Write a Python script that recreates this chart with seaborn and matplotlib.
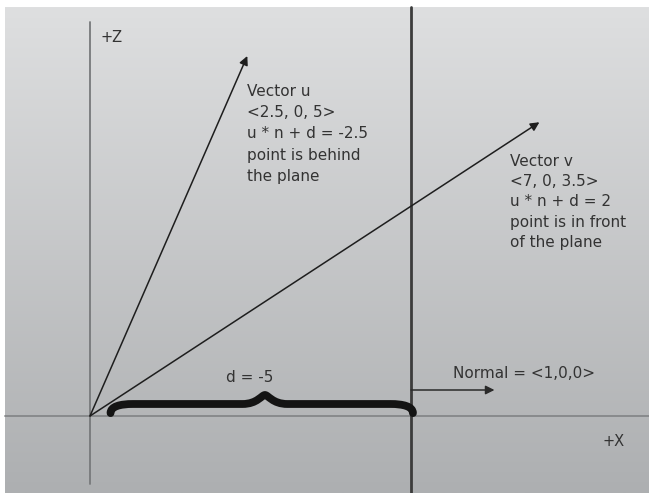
import numpy as np
import matplotlib
matplotlib.use("Agg")
import matplotlib.pyplot as plt
import seaborn as sns
from matplotlib.path import Path
from matplotlib.patches import PathPatch
from matplotlib.colors import LinearSegmentedColormap

# Vectors as drawn in the figure (x, z)
vec_names = ["u", "v"]
vec_x = [2.45, 7.0]
vec_z = [5.0, 4.08]
vec_labels = [
    ["Vector u", "<2.5, 0, 5>", "u * n + d = -2.5", "point is behind", "the plane"],
    ["Vector v", "<7, 0, 3.5>", "u * n + d = 2", "point is in front", "of the plane"],
]
plane_d = -5.0
normal = [1.0, 0.0]
normal_len = 1.3

sns.set_theme(style="white")
plt.rcParams["font.family"] = ["DejaVu Sans"]

# pixel helpers for text placement
SX, SZ, OX, OZ = 64.2, 72.0, 90, 416
def px(x):
    return (x - OX) / SX
def pz(y):
    return (OZ - y) / SZ

fig = plt.figure(figsize=(6.49, 4.93), dpi=100, facecolor="white")
ax = fig.add_axes([0, 0, 1, 1])
ax.axis("off")
xlim = (px(0), px(649))
ylim = (pz(493), pz(0))

# grey gradient panel
cmap = LinearSegmentedColormap.from_list("bg", ["#dedfe0", "#adafb1"])
grad = np.linspace(0, 1, 256).reshape(-1, 1)
ax.imshow(grad, extent=[px(5), px(649), pz(493), pz(7)], aspect="auto",
          cmap=cmap, origin="upper", zorder=0)
ax.set_xlim(*xlim)
ax.set_ylim(*ylim)

# axes lines
ax.plot([px(5), px(649)], [0, 0], color="#858789", lw=1.3, zorder=1)
ax.plot([0, 0], [pz(22), pz(484)], color="#77797b", lw=1.3, zorder=1)
# plane
plane_x = -plane_d
ax.plot([plane_x, plane_x], [pz(7), pz(493)], color="#3c3c3c", lw=2.0, zorder=2)

# vectors
for x, z in zip(vec_x, vec_z):
    ax.annotate("", xy=(x, z), xytext=(0, 0),
                arrowprops=dict(arrowstyle="-|>", color="#1e1e1e", lw=1.1,
                                mutation_scale=13, shrinkA=0, shrinkB=0),
                zorder=3)

# normal arrow
nz = pz(390)
ax.annotate("", xy=(plane_x + normal_len * normal[0], nz), xytext=(plane_x, nz),
            arrowprops=dict(arrowstyle="-|>", color="#2a2a2a", lw=1.1,
                            mutation_scale=13, shrinkA=0, shrinkB=0), zorder=3)

# brace between origin and plane
x0, x1 = 0.32, plane_x + 0.03
xm = (x0 + x1) / 2 + 0.05
hf, hp = pz(404), pz(395)
verts = [
    (x0, 0.04), (x0, hf * 0.8), (x0 + 0.15, hf), (x0 + 0.35, hf),
    (xm - 0.35, hf),
    (xm - 0.12, hf), (xm - 0.05, hp), (xm, hp),
    (xm + 0.05, hp), (xm + 0.12, hf), (xm + 0.35, hf),
    (x1 - 0.35, hf),
    (x1 - 0.15, hf), (x1, hf * 0.8), (x1, 0.04),
]
codes = [Path.MOVETO, Path.CURVE4, Path.CURVE4, Path.CURVE4,
         Path.LINETO,
         Path.CURVE4, Path.CURVE4, Path.CURVE4,
         Path.CURVE4, Path.CURVE4, Path.CURVE4,
         Path.LINETO,
         Path.CURVE4, Path.CURVE4, Path.CURVE4]
ax.add_patch(PathPatch(Path(verts, codes), facecolor="none", edgecolor="#141414",
                       lw=5.6, capstyle="round", joinstyle="round", zorder=4))

# texts
tc = "#333333"
fs = 11
for lines, lx, ly0, step in [(vec_labels[0], 247, 91, 21.5), (vec_labels[1], 510, 161, 20.5)]:
    for i, s in enumerate(lines):
        ax.text(px(lx), pz(ly0 + i * step), s, fontsize=fs, color=tc,
                ha="left", va="center", zorder=5)

ax.text(px(250), pz(377), "d = -5", fontsize=fs, color=tc, ha="center", va="center")
ax.text(px(453), pz(373), "Normal = <1,0,0>", fontsize=fs, color=tc, ha="left", va="center")
ax.text(px(101), pz(38), "+Z", fontsize=10.5, color=tc, ha="left", va="center")
ax.text(px(603), pz(442), "+X", fontsize=10.5, color=tc, ha="left", va="center")

fig.savefig("out.png", dpi=100, facecolor="white")
